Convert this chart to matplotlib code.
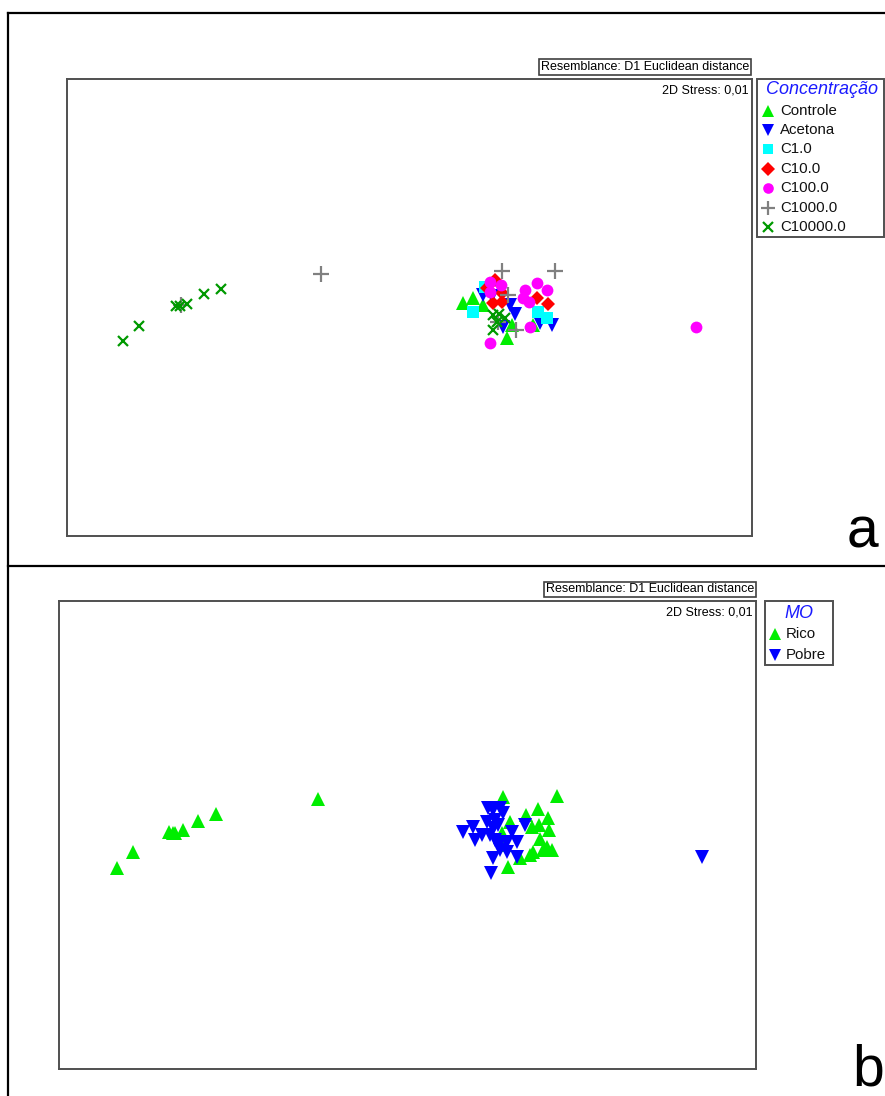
import matplotlib
matplotlib.use("Agg")
import matplotlib.pyplot as plt
from matplotlib.lines import Line2D
from matplotlib.patches import Rectangle

plt.rcParams['font.family'] = ['Liberation Sans', 'DejaVu Sans']

W, H = 885, 1096

# ---------------- Data (ordination coordinates, panel a) ----------------
controle_x = [463, 473, 483, 507, 512, 533]
controle_y = [303, 298, 305, 338, 325, 325]
acetona_x = [483, 510, 515, 503, 540, 552, 492]
acetona_y = [295, 305, 314, 327, 323, 325, 296]
c1_x = [473, 538, 547, 485]
c1_y = [312, 312, 318, 287]
c10_x = [495, 487, 502, 493, 502, 537, 548]
c10_y = [280, 288, 293, 303, 302, 298, 304]
c100_x = [490, 501, 490, 525, 537, 547, 523, 529, 530, 490, 696]
c100_y = [282, 285, 292, 290, 283, 290, 298, 302, 327, 343, 327]
c1000_x = [502, 555, 508, 498, 516, 321, 181]
c1000_y = [271, 271, 295, 322, 330, 274, 305]
c10000_x = [123, 139, 176, 180, 187, 204, 221, 493, 499, 505, 493, 497]
c10000_y = [341, 326, 306, 306, 304, 294, 289, 315, 314, 318, 330, 322]

conc_labels = ['Controle', 'Acetona', 'C1.0', 'C10.0', 'C100.0', 'C1000.0', 'C10000.0']

# ---------------- Data (panel b) ----------------
rico_x = [117, 133, 169, 173, 175, 183, 198, 216, 318,
          503, 557, 526, 538, 548, 532, 539, 549, 540, 547, 552, 543, 533, 530,
          508, 510, 505, 520, 502]
rico_y = [868, 852, 832, 833, 833, 830, 821, 814, 799,
          797, 796, 815, 809, 818, 827, 825, 830, 839, 847, 850, 850, 852, 855,
          867, 822, 845, 858, 833]
pobre_x = [463, 473, 475, 482, 488, 493, 500, 503, 487, 495, 498, 493, 512,
           495, 500, 507, 517, 500, 507, 517, 493, 525, 491, 490, 702]
pobre_y = [832, 827, 840, 835, 808, 810, 808, 813, 822, 820, 825, 828, 832,
           840, 843, 842, 842, 850, 852, 857, 858, 825, 873, 835, 857]

mo_labels = ['Rico', 'Pobre']

# ---------------- Styles ----------------
styles = [
    dict(marker='^', color='#00ee00', ms=10, mew=0),
    dict(marker='v', color='#0000ff', ms=10, mew=0),
    dict(marker='s', color='#00ffff', ms=8, mew=0),
    dict(marker='D', color='#ff0000', ms=7.5, mew=0),
    dict(marker='o', color='#ff00ff', ms=8.5, mew=0),
    dict(marker='+', color='#808080', ms=11, mew=1.6),
    dict(marker='x', color='#009900', ms=7.5, mew=1.6),
]
series_a = [(controle_x, controle_y), (acetona_x, acetona_y), (c1_x, c1_y),
            (c10_x, c10_y), (c100_x, c100_y), (c1000_x, c1000_y),
            (c10000_x, c10000_y)]
series_b = [(rico_x, rico_y), (pobre_x, pobre_y)]
styles_b = [styles[0], styles[1]]

fig = plt.figure(figsize=(W / 100, H / 100), dpi=100)


def fx(px):
    return px / W


def fy(py):
    return 1 - py / H


def make_axes(x0, y0, x1, y1):
    ax = fig.add_axes([fx(x0), fy(y1), fx(x1) - fx(x0), fy(y0) - fy(y1)])
    ax.set_xticks([])
    ax.set_yticks([])
    for s in ax.spines.values():
        s.set_color('#505050')
        s.set_linewidth(1.4)
    return ax


# Panel a
axa = make_axes(67, 79, 752, 536)
for (xs, ys), st in zip(series_a, styles):
    axa.plot(xs, ys, linestyle='none', marker=st['marker'], color=st['color'],
             ms=st['ms'], mew=st['mew'])
axa.set_xlim(67, 752)
axa.set_ylim(536, 79)
axa.text(0.995, 0.987, '2D Stress: 0,01', transform=axa.transAxes, ha='right',
         va='top', fontsize=9)

# Panel b
axb = make_axes(59, 601, 756, 1069)
for (xs, ys), st in zip(series_b, styles_b):
    axb.plot(xs, ys, linestyle='none', marker=st['marker'], color=st['color'],
             ms=st['ms'], mew=st['mew'])
axb.set_xlim(59, 756)
axb.set_ylim(1069, 601)
axb.text(0.995, 0.988, '2D Stress: 0,01', transform=axb.transAxes, ha='right',
         va='top', fontsize=9)

# Resemblance boxes
for (xr, yc) in [(749, 67), (754, 589.5)]:
    fig.text(fx(xr), fy(yc), 'Resemblance: D1 Euclidean distance', ha='right',
             va='center', fontsize=9,
             bbox=dict(boxstyle='square,pad=0.15', fc='white', ec='#404040', lw=1.2))


# Legends (manual)
def legend_box(x0, y0, x1, y1, title, tx, ty, labels, stys, mx, lx, rows, tsize):
    fig.add_artist(Rectangle((fx(x0), fy(y1)), fx(x1) - fx(x0), fy(y0) - fy(y1),
                             transform=fig.transFigure, fc='white', ec='#505050', lw=1.4))
    fig.text(fx(tx), fy(ty), title, ha='center', va='center', fontsize=tsize,
             style='italic', color='#1a1aff')
    for lab, st, ry in zip(labels, stys, rows):
        fig.add_artist(Line2D([fx(mx)], [fy(ry)], transform=fig.transFigure,
                              linestyle='none', marker=st['marker'], color=st['color'],
                              ms=st['ms'] * 0.9, mew=st['mew']))
        fig.text(fx(lx), fy(ry), lab, ha='left', va='center', fontsize=10.8, color='#111111')


legend_box(757, 79, 884, 237, 'Concentração', 822, 90, conc_labels, styles, 768, 780,
           [111, 130, 149, 169, 188, 208, 227], 13)
legend_box(765, 601, 833, 665, 'MO', 799, 613, mo_labels, styles_b, 775, 786,
           [634, 655], 13)

# Panel letters
fig.text(fx(862), fy(548), 'a', ha='center', va='baseline', fontsize=41)
fig.text(fx(868), fy(1085), 'b', ha='center', va='baseline', fontsize=41)

# Outer frame lines
for (xs, ys) in [([7.5, 885], [12.5, 12.5]), ([7.5, 7.5], [12.5, 1096]),
                 ([7.5, 885], [566, 566])]:
    fig.add_artist(Line2D([fx(v) for v in xs], [fy(v) for v in ys],
                          transform=fig.transFigure, color='black', lw=1.6))

fig.savefig('out.png', dpi=100)
